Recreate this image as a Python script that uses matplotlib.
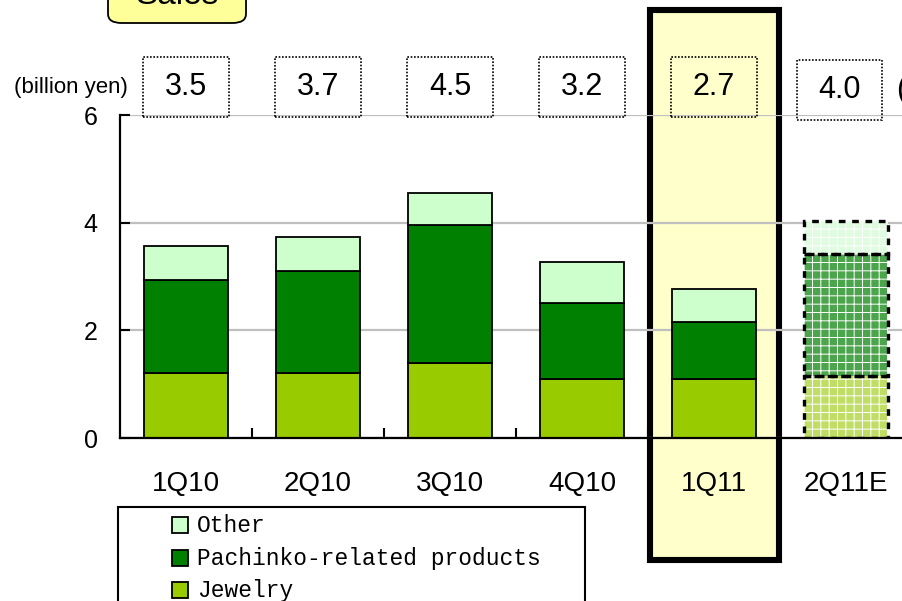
import matplotlib
matplotlib.use("Agg")
import matplotlib.pyplot as plt
from matplotlib.patches import Rectangle, FancyBboxPatch
import numpy as np

# ---- data ----
categories = ["1Q10", "2Q10", "3Q10", "4Q10", "1Q11", "2Q11E"]
jewelry = [1.21, 1.21, 1.39, 1.10, 1.10, 1.15]
pachinko = [1.73, 1.89, 2.57, 1.41, 1.06, 2.27]
other = [0.63, 0.64, 0.59, 0.76, 0.61, 0.61]
total_labels = ["3.5", "3.7", "4.5", "3.2", "2.7", "4.0"]
is_estimate = [False, False, False, False, False, True]
series_names = ["Other", "Pachinko-related products", "Jewelry"]
yticks = [0, 2, 4, 6]
highlight = "1Q11"

# ---- styles ----
colors = {"Other": "#CCFFCC", "Pachinko-related products": "#008000", "Jewelry": "#99CC00"}
est_colors = {"Other": "#E0FCE0", "Pachinko-related products": "#4CA44C", "Jewelry": "#C0DE66"}

plt.rcParams["font.family"] = ["Liberation Sans", "DejaVu Sans"]
plt.rcParams["hatch.linewidth"] = 0.7

W, H = 902, 601
fig = plt.figure(figsize=(W / 100, H / 100), dpi=100)


def fx(px):
    return px / W


def fy(py):
    return 1 - py / H


# highlight frame behind the axes
hi = categories.index(highlight)
fig.patches.append(Rectangle((fx(650), fy(560)), fx(779) - fx(650), fy(10) - fy(560),
                             transform=fig.transFigure, fc="#FFFFCC", ec="black",
                             lw=4.4, zorder=-1))

# title box (mostly cut off at the top)
fig.patches.append(FancyBboxPatch((fx(108), fy(23)), fx(246) - fx(108), fy(-40) - fy(23),
                                  boxstyle="round,pad=0,rounding_size=0.015",
                                  transform=fig.transFigure, fc="#FFFF99", ec="black",
                                  lw=1.3, zorder=-1))
fig.text(fx(177), fy(-5), "Sales", ha="center", va="center", fontsize=24)

ax = fig.add_axes([fx(120), fy(438), 792 / W, 323 / H])
ax.patch.set_alpha(0)

x = np.arange(len(categories))
width = 0.63
segs = [("Jewelry", jewelry), ("Pachinko-related products", pachinko), ("Other", other)]
bottom = np.zeros(len(categories))
act = np.array([not e for e in is_estimate])
est = np.array(is_estimate)
for name, vals in segs:
    vals = np.array(vals)
    ax.bar(x[act], vals[act], width, bottom=bottom[act], color=colors[name],
           edgecolor="black", lw=1.3, zorder=3)
    ax.bar(x[est], vals[est], width, bottom=bottom[est], color=est_colors[name],
           edgecolor="white", lw=0, hatch="++", zorder=3)
    ax.bar(x[est], vals[est], width, bottom=bottom[est], fill=False,
           edgecolor="black", lw=2.4, linestyle=(0, (2, 2)), zorder=4)
    bottom = bottom + vals

ax.set_xlim(-0.5, len(categories) - 0.5)
ax.set_ylim(0, 6)
ax.set_yticks(yticks)
ax.set_yticklabels([str(t) for t in yticks])
ax.yaxis.grid(True, color="#BFBFBF", lw=1.6)
ax.set_axisbelow(True)
for s in ["top", "right"]:
    ax.spines[s].set_visible(False)
for s in ["left", "bottom"]:
    ax.spines[s].set_linewidth(1.6)
    ax.spines[s].set_zorder(5)

ax.tick_params(axis="y", direction="in", length=7, width=1.5, labelsize=18, pad=16)
ax.set_xticks(x)
ax.set_xticklabels(categories)
ax.tick_params(axis="x", which="major", length=0, labelsize=20, pad=24)
ax.set_xticks(np.arange(0.5, len(categories) - 1, 1), minor=True)
ax.tick_params(axis="x", which="minor", direction="in", length=7, width=1.5)

# total labels in dotted boxes
for i, lab in enumerate(total_labels):
    dx = -0.05 if is_estimate[i] else 0.0
    dy = -0.06 if is_estimate[i] else 0.0
    ax.add_patch(Rectangle((i - 0.322 + dx, 5.96 + dy), 0.644, 1.115, fill=False,
                           ec="black", lw=1.2, linestyle=(0, (1, 1)), clip_on=False,
                           zorder=6))
    ax.text(i + dx, 6.52 + dy, lab, ha="center", va="center", fontsize=22,
            clip_on=False, zorder=6)

fig.text(fx(14), fy(87), "(billion yen)", ha="left", va="center", fontsize=16)
fig.text(fx(896), fy(90), "(forecast)", ha="left", va="center", fontsize=22)

# legend (manual, box runs off the bottom)
fig.patches.append(Rectangle((fx(118), fy(640)), fx(585) - fx(118), fy(507) - fy(640),
                             transform=fig.transFigure, fill=False, ec="black", lw=1.5))
row_y = [525, 558, 590]
for name, ry in zip(series_names, row_y):
    fig.patches.append(Rectangle((fx(172), fy(ry + 8)), fx(188) - fx(172), fy(ry - 8) - fy(ry + 8),
                                 transform=fig.transFigure, fc=colors[name], ec="black", lw=1.3))
    fig.text(fx(197), fy(ry), name, ha="left", va="center", fontsize=16.5,
             family=["Liberation Mono", "DejaVu Sans Mono"])

fig.savefig("out.png", dpi=100)
